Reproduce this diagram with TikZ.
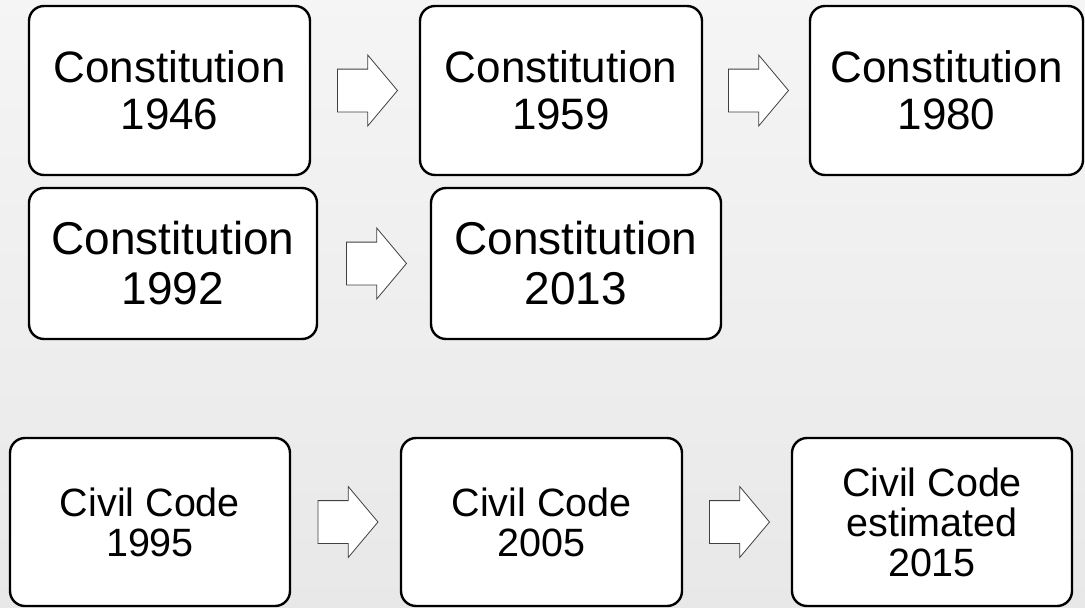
\documentclass[tikz,border=0pt]{standalone}
\usepackage{fontspec}
\setmainfont{Liberation Sans}
\usetikzlibrary{shapes.arrows}

\tikzset{
  lawbox/.style={draw,line width=2.4pt,rounded corners=15pt,fill=white,
    align=center,inner sep=0pt},
  bigtext/.style={font=\fontsize{44}{47}\selectfont},
  midtext/.style={font=\fontsize{39.5}{40}\selectfont},
  nextarrow/.style={single arrow,draw=black!75,line width=0.8pt,fill=white,
    minimum height=60pt,inner xsep=0pt,inner ysep=21pt,
    single arrow head extend=14pt,single arrow tip angle=100,midway,xshift=-6.5pt}
}

\begin{document}
\begin{tikzpicture}[x=1pt,y=-1pt]
  \useasboundingbox (0,0) rectangle (1085,608);
  \shade[top color=black!4,bottom color=black!9] (0,0) rectangle (1085,608);

  % constitutions
  \node[lawbox,bigtext,minimum width=281pt,minimum height=169pt] (c1946) at (169.5,90.5) {Constitution\\1946};
  \node[lawbox,bigtext,minimum width=282pt,minimum height=169pt] (c1959) at (561,90.5) {Constitution\\1959};
  \node[lawbox,bigtext,minimum width=273pt,minimum height=169pt] (c1980) at (946.5,90.5) {Constitution\\1980};
  \node[lawbox,font=\fontsize{46}{50}\selectfont,minimum width=288pt,minimum height=151pt] (c1992) at (173,263.5) {Constitution\\1992};
  \node[lawbox,font=\fontsize{46}{50}\selectfont,minimum width=290pt,minimum height=151pt] (c2013) at (576,263.5) {Constitution\\2013};

  % civil codes
  \node[lawbox,midtext,minimum width=280pt,minimum height=168pt] (cc1995) at (150,522) {Civil Code\\1995};
  \node[lawbox,midtext,minimum width=281pt,minimum height=168pt] (cc2005) at (541.5,522) {Civil Code\\2005};
  \node[lawbox,midtext,minimum width=280pt,minimum height=168pt] (cc2015) at (932,522) {Civil Code\\estimated\\2015};

  \path (c1946) -- node[nextarrow] {} (c1959);
  \path (c1959) -- node[nextarrow] {} (c1980);
  \path (c1992) -- node[nextarrow] {} (c2013);
  \path (cc1995) -- node[nextarrow] {} (cc2005);
  \path (cc2005) -- node[nextarrow] {} (cc2015);
\end{tikzpicture}
\end{document}
